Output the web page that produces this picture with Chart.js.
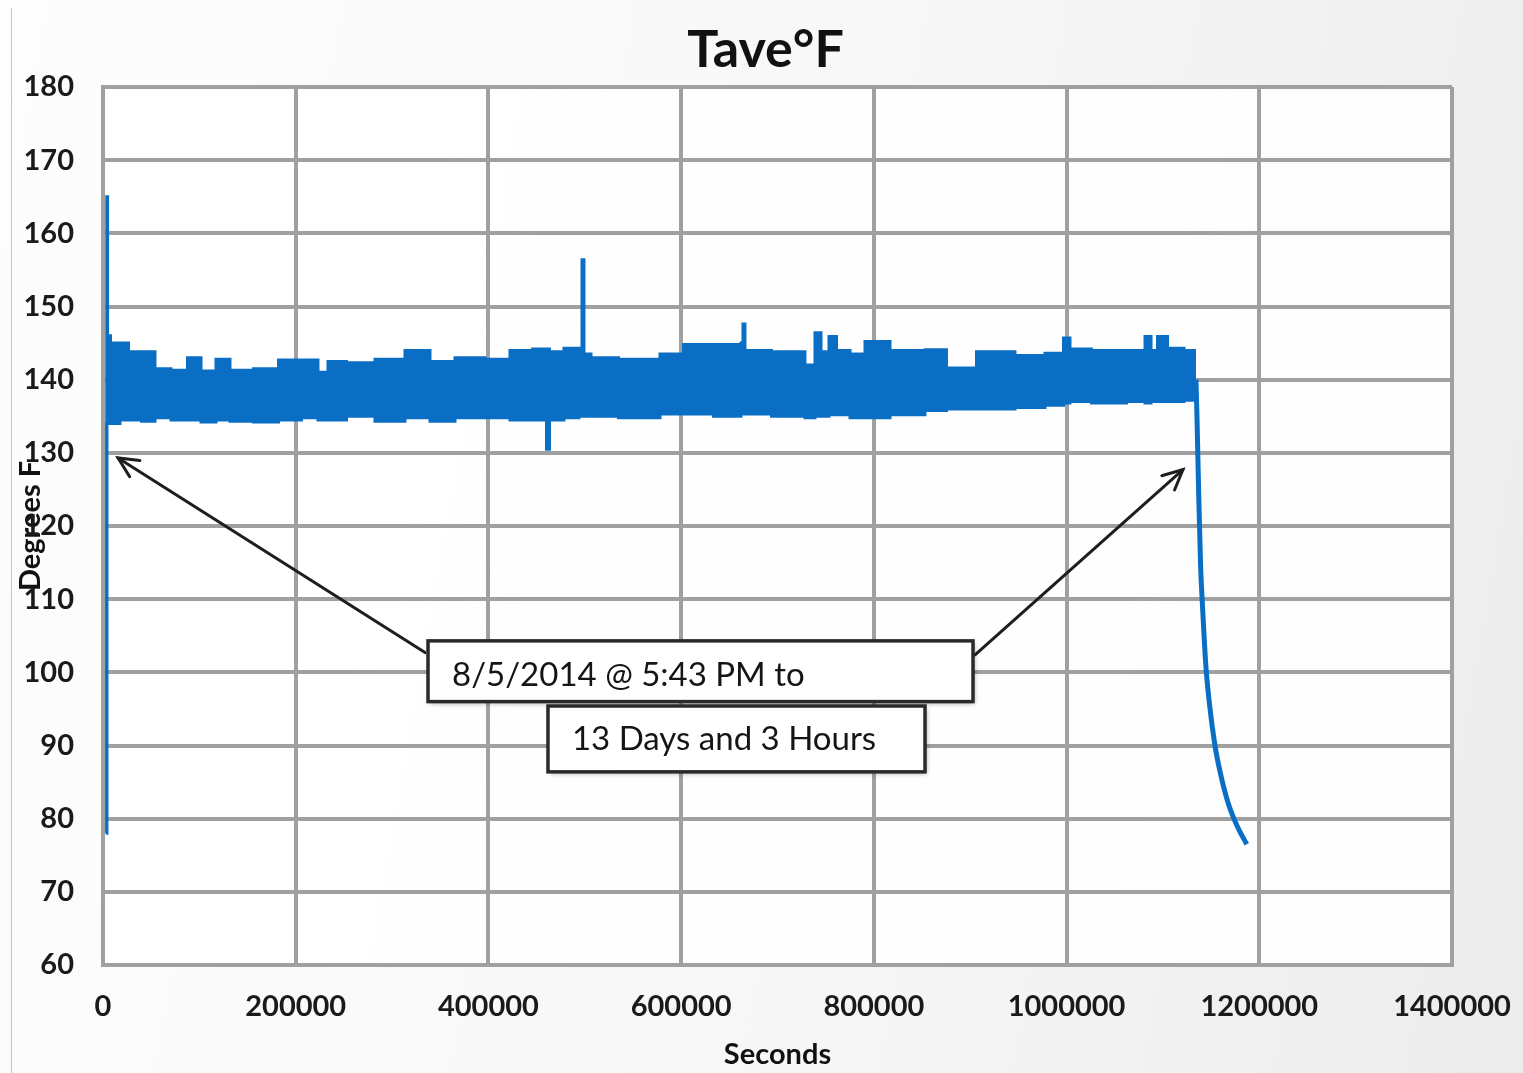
<!DOCTYPE html>
<html><head><meta charset="utf-8">
<script src="https://cdn.jsdelivr.net/npm/chart.js@4.4.1/dist/chart.umd.min.js"></script>
<style>
html,body{margin:0;padding:0;width:1523px;height:1073px;overflow:hidden;background:linear-gradient(100deg,#fdfdfd 0%,#f7f7f7 55%,#ececec 100%);}
#wrap{position:absolute;left:0;top:0;width:1523px;height:1073px;}
#edge{position:absolute;left:11px;top:8px;width:1px;height:1065px;background:#c4c4c4;}
</style></head><body>
<div id="edge"></div>
<div id="wrap"><canvas id="c" width="1523" height="1073"></canvas></div>
<script>
// ---- data ----
const chartTitle = 'Tave°F';
const xAxisTitle = 'Seconds';
const yAxisTitle = 'Degrees F';
const xTickValues = [0, 200000, 400000, 600000, 800000, 1000000, 1200000, 1400000];
const yTickValues = [60, 70, 80, 90, 100, 110, 120, 130, 140, 150, 160, 170, 180];

// time in seconds (recorded band)
const seconds = [
  3500, 4300, 5200, 10400, 24900, 28000, 51900, 56000, 85100, 90300,
  113100, 121400, 142200, 170200, 194100, 217900, 228300, 238700, 266700, 297800,
  329000, 349700, 380900, 411900, 432800, 458700, 461800, 464900, 491900, 496100,
  498100, 500200, 512700, 557300, 598800, 606100, 661100, 663100, 665200, 667300,
  720200, 736800, 741000, 749300, 757600, 764900, 785600, 796000, 837500, 868600,
  882100, 930900, 962000, 993200, 1000400, 1006700, 1045000, 1079300, 1083500, 1091800,
  1097000, 1112500, 1131200, 1134300
];
// upper edge of the recorded temperature band (°F)
const tempMax = [
  78, 165, 146, 145, 145, 143.8, 143.8, 141.5, 141.3, 143,
  141.2, 142.8, 141.3, 141.5, 142.7, 142.7, 141, 142.5, 142.3, 142.8,
  144, 142.5, 143, 142.8, 144, 144.2, 144.2, 143.8, 144.3, 144.3,
  156.4, 143.5, 143, 142.8, 143.5, 144.8, 144.8, 145, 147.6, 144,
  143.8, 142, 146.4, 143.8, 145.9, 144, 143.5, 145.2, 144, 144.1,
  141.6, 143.8, 143.3, 143.6, 145.7, 144.2, 144, 144, 145.9, 144,
  145.9, 144.3, 144, 143
];
// lower edge of the recorded temperature band (°F)
const tempMin = [
  78, 134, 134, 134, 134.5, 134.5, 134.3, 134.8, 134.5, 134.5,
  134.2, 134.5, 134.3, 134.2, 134.5, 134.8, 134.5, 134.5, 135, 134.3,
  134.8, 134.3, 134.8, 134.8, 134.5, 134.5, 130.5, 134.5, 134.8, 135,
  135, 135, 135, 134.8, 135.3, 135.3, 135, 135.3, 135.3, 135.3,
  135, 134.8, 135, 135, 135.2, 135.2, 134.8, 134.8, 135.2, 135.8,
  136, 136, 136.2, 136.5, 136.8, 137, 136.8, 137, 136.8, 137,
  137, 137, 137.2, 137.5
];
// cool-down after the test
const coolSeconds = [1134300, 1135500, 1137000, 1139000, 1141500, 1144500, 1148000, 1154000, 1160000, 1168000, 1177000, 1187000];
const coolTemps   = [140, 134, 125, 115, 108, 101, 96, 90, 86, 82, 79, 76.5];

// annotation texts
const noteLines = ['8/5/2014 @ 5:43 PM to', '13 Days and 3 Hours'];

// ---- annotation geometry (in data units) ----
const noteBoxes = [
  {x0: 337300, x1: 902900, y0: 104.3, y1: 96.0, tx: 362200, ty: 99.6},
  {x0: 461800, x1: 853100, y0: 95.4, y1: 86.4, tx: 486700, ty: 90.8}
];
const noteArrows = [
  {x0: 334200, y0: 102.7, x1: 15600, y1: 129.3},
  {x0: 905000, y0: 102.4, x1: 1120800, y1: 127.7}
];

const BLUE = '#0a6fc4';
const GRID = '#a0a0a0';
const FONT = 'Lato, "Open Sans", "DejaVu Sans", sans-serif';

const bgPlugin = {
  id: 'bg',
  beforeDraw(chart) {
    const {ctx, chartArea: a} = chart;
    ctx.save();
    ctx.fillStyle = 'rgba(255,255,255,0.85)';
    ctx.fillRect(a.left, a.top, a.right - a.left, a.bottom - a.top);
    ctx.restore();
  }
};

const titlePlugin = {
  id: 'mainTitle',
  afterDraw(chart) {
    const {ctx, chartArea: a} = chart;
    ctx.save();
    ctx.fillStyle = '#111';
    ctx.font = 'bold 52px ' + FONT;
    ctx.textAlign = 'center';
    ctx.textBaseline = 'middle';
    ctx.fillText(chartTitle, (a.left + a.right) / 2 - 12, 50);
    ctx.restore();
  }
};

const notePlugin = {
  id: 'notes',
  afterDatasetsDraw(chart) {
    const {ctx, scales: {x, y}} = chart;
    ctx.save();
    ctx.strokeStyle = '#1e1e1e';
    ctx.lineWidth = 3;
    ctx.lineCap = 'round';
    noteArrows.forEach(a => {
      const X0 = x.getPixelForValue(a.x0), Y0 = y.getPixelForValue(a.y0);
      const X1 = x.getPixelForValue(a.x1), Y1 = y.getPixelForValue(a.y1);
      ctx.beginPath(); ctx.moveTo(X0, Y0); ctx.lineTo(X1, Y1); ctx.stroke();
      const ang = Math.atan2(Y1 - Y0, X1 - X0);
      const L = 22, w = 0.45;
      ctx.beginPath();
      ctx.moveTo(X1 - L * Math.cos(ang - w), Y1 - L * Math.sin(ang - w));
      ctx.lineTo(X1, Y1);
      ctx.lineTo(X1 - L * Math.cos(ang + w), Y1 - L * Math.sin(ang + w));
      ctx.stroke();
    });
    noteBoxes.forEach((b, i) => {
      const X0 = x.getPixelForValue(b.x0), X1 = x.getPixelForValue(b.x1);
      const Y0 = y.getPixelForValue(b.y0), Y1 = y.getPixelForValue(b.y1);
      ctx.save();
      ctx.shadowColor = 'rgba(0,0,0,0.35)';
      ctx.shadowBlur = 5; ctx.shadowOffsetX = 2; ctx.shadowOffsetY = 2;
      ctx.fillStyle = '#ffffff';
      ctx.fillRect(X0, Y0, X1 - X0, Y1 - Y0);
      ctx.restore();
      ctx.strokeStyle = '#2a2a2a';
      ctx.lineWidth = 3.5;
      ctx.strokeRect(X0, Y0, X1 - X0, Y1 - Y0);
      ctx.fillStyle = '#151515';
      ctx.font = '33px ' + FONT;
      ctx.textAlign = 'left';
      ctx.textBaseline = 'middle';
      ctx.fillText(noteLines[i], x.getPixelForValue(b.tx), y.getPixelForValue(b.ty));
    });
    ctx.restore();
  }
};

const ctx = document.getElementById('c').getContext('2d');
new Chart(ctx, {
  type: 'line',
  data: {
    datasets: [
      {
        label: 'Tave max',
        data: seconds.map((s, i) => ({x: s, y: tempMax[i]})),
        borderColor: BLUE, backgroundColor: BLUE, borderWidth: 3,
        pointRadius: 0, stepped: 'middle', fill: false
      },
      {
        label: 'Tave min',
        data: seconds.map((s, i) => ({x: s, y: tempMin[i]})),
        borderColor: BLUE, backgroundColor: BLUE, borderWidth: 3,
        pointRadius: 0, stepped: 'middle', fill: '-1'
      },
      {
        label: 'Cool-down',
        data: coolSeconds.map((s, i) => ({x: s, y: coolTemps[i]})),
        borderColor: BLUE, backgroundColor: BLUE, borderWidth: 5,
        pointRadius: 0, tension: 0.3, cubicInterpolationMode: 'monotone', fill: false
      }
    ]
  },
  options: {
    responsive: false,
    animation: false,
    devicePixelRatio: 1,
    layout: {padding: {left: 0, right: 71, top: 87, bottom: 0}},
    plugins: {
      legend: {display: false},
      tooltip: {enabled: false},
      title: {display: false}
    },
    scales: {
      x: {
        type: 'linear', min: 0, max: 1400000,
        afterBuildTicks: s => { s.ticks = xTickValues.map(v => ({value: v})); },
        afterFit: s => { s.height = 108; s.paddingLeft = 0; s.paddingRight = 0; },
        ticks: {
          callback: v => String(v), color: '#1a1a1a', padding: 24,
          maxRotation: 0, autoSkip: false,
          font: {family: FONT, size: 29, weight: 'bold'}
        },
        grid: {color: GRID, lineWidth: 4, drawTicks: false},
        border: {display: true, color: GRID, width: 4},
        title: {
          display: true, text: xAxisTitle, color: '#111',
          font: {family: FONT, size: 29, weight: 'bold'},
          padding: {top: 0, bottom: 1}
        }
      },
      y: {
        min: 60, max: 180,
        afterBuildTicks: s => { s.ticks = yTickValues.map(v => ({value: v})); },
        afterFit: s => { s.width = 103; s.paddingTop = 0; s.paddingBottom = 0; },
        ticks: {
          callback: v => String(v), color: '#1a1a1a', padding: 29,
          font: {family: FONT, size: 29, weight: 'bold'}
        },
        grid: {color: GRID, lineWidth: 4, drawTicks: false},
        border: {display: true, color: GRID, width: 4},
        title: {
          display: true, text: yAxisTitle, color: '#111',
          font: {family: FONT, size: 29, weight: 'bold'},
          padding: {top: 13, bottom: 0}
        }
      }
    }
  },
  plugins: [bgPlugin, notePlugin, titlePlugin]
});
</script>
</body></html>
